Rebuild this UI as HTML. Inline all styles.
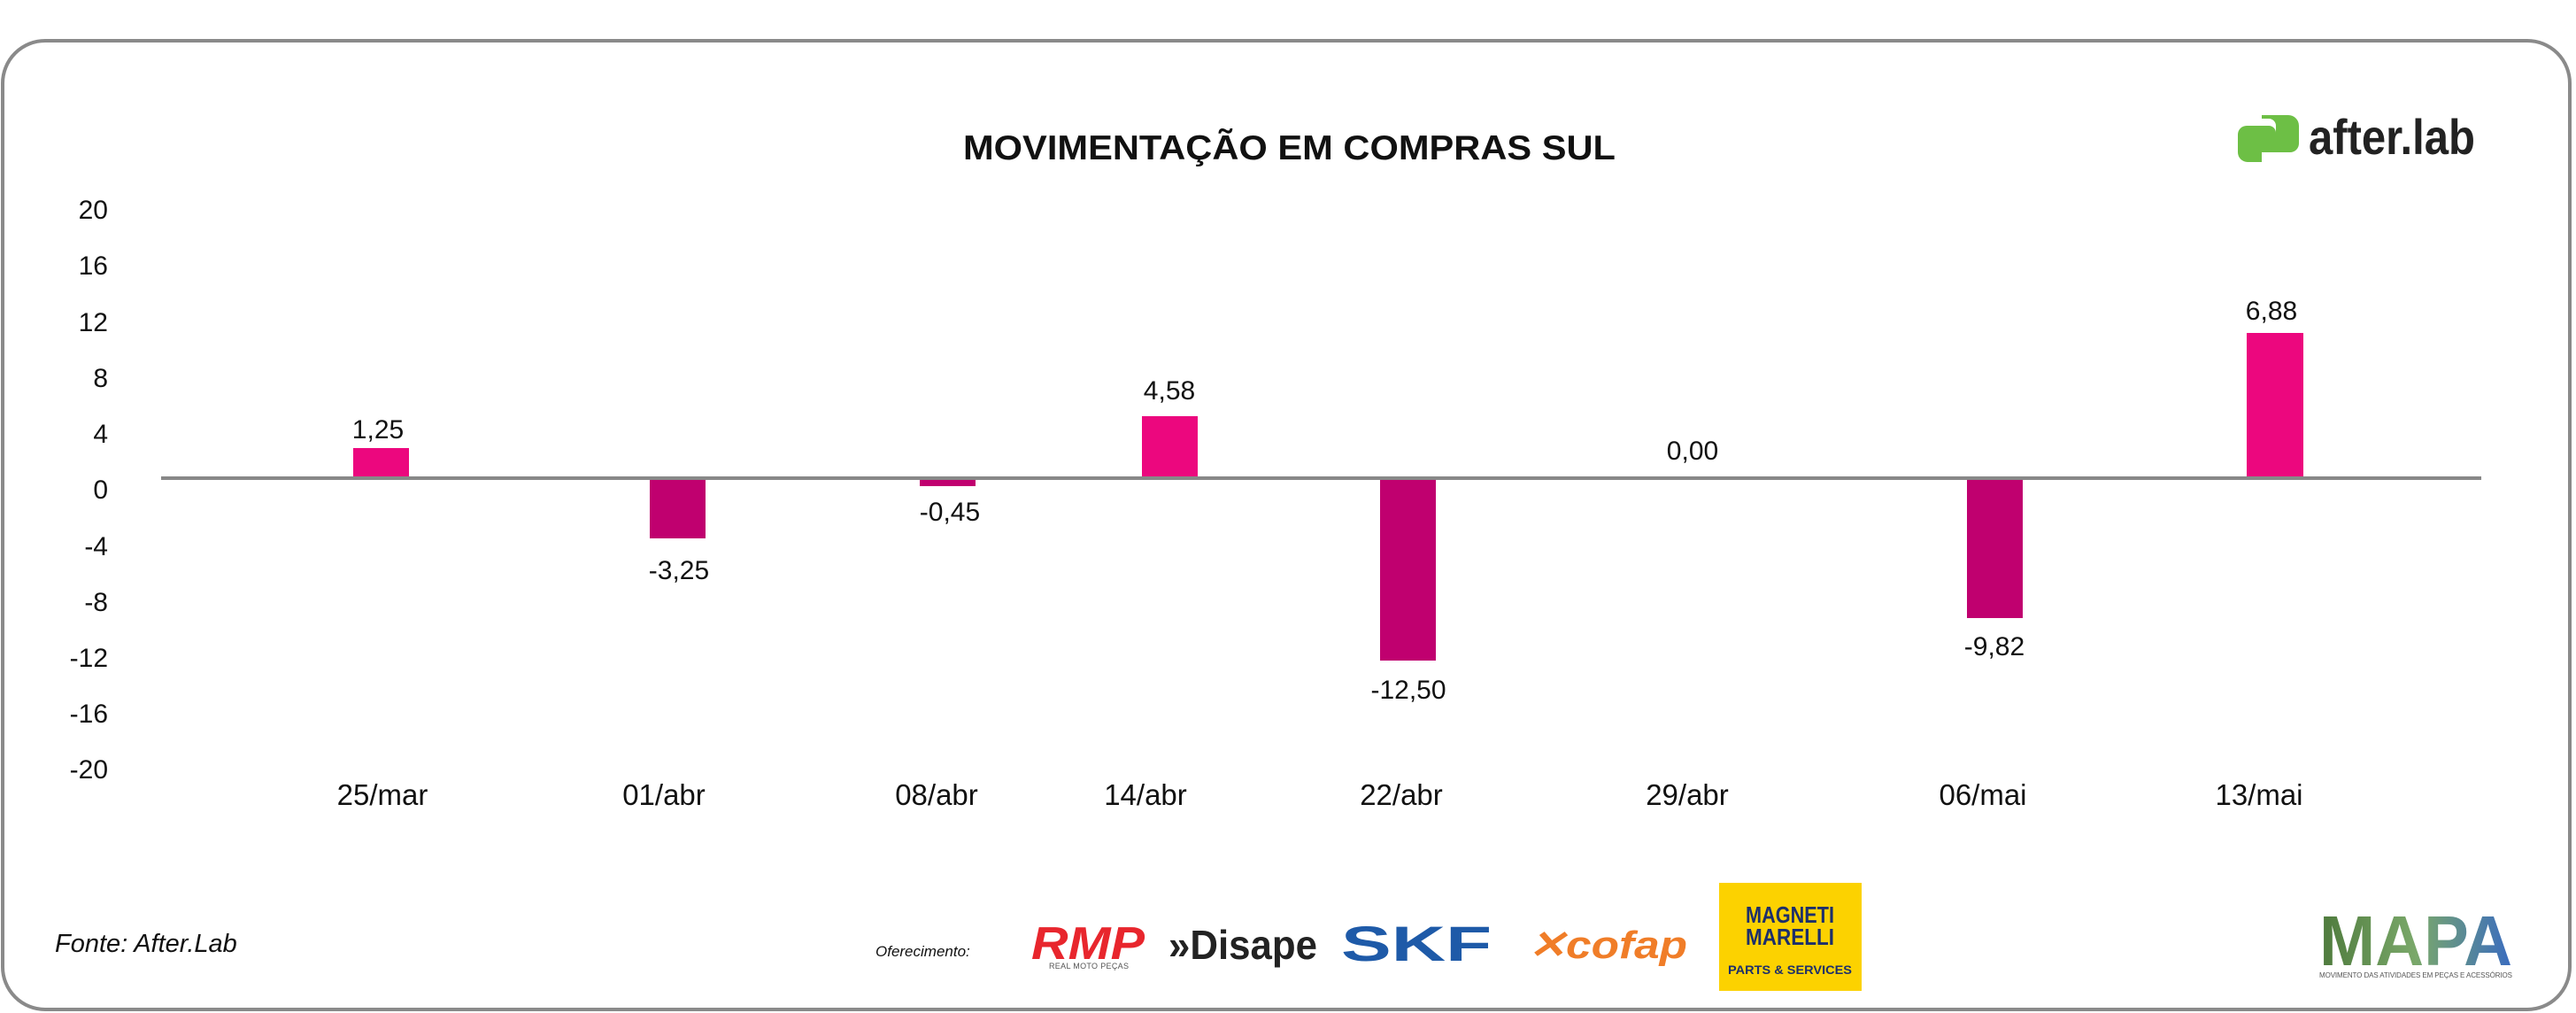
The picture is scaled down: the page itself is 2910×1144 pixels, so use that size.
<!DOCTYPE html>
<html><head><meta charset="utf-8"><style>
html,body{margin:0;padding:0;background:#fff;}
svg{display:block;}
</style></head><body>
<svg width="2910" height="1144" viewBox="0 0 2910 1144" xmlns="http://www.w3.org/2000/svg" font-family="Liberation Sans, sans-serif">
<rect x="0" y="0" width="2910" height="1144" fill="#fff"/>
<rect x="3" y="46" width="2900" height="1094" rx="48" ry="48" fill="none" stroke="#8a8a8a" stroke-width="4"/>
<text x="1088" y="180" font-size="39" font-weight="bold" fill="#111" textLength="737" lengthAdjust="spacingAndGlyphs">MOVIMENTAÇÃO EM COMPRAS SUL</text>
<path d="M2555 130 h30 a12 12 0 0 1 12 12 v20 a10 10 0 0 1 -10 10 h-16 v-30 a8 8 0 0 0 -8 -8 h-8 z" fill="#6dbf45"/>
<path d="M2548 142 h7 v41 h-16 a11 11 0 0 1 -11 -11 v-20 a10 10 0 0 1 10 -10 z" fill="#6dbf45"/>
<path d="M2555 142 h8 a8 8 0 0 1 8 8 v22 h-16 z" fill="#6dbf45"/>
<text x="2608" y="174" font-size="56" font-weight="bold" fill="#222" textLength="188" lengthAdjust="spacingAndGlyphs">after.lab</text>
<g font-size="30" fill="#111" text-anchor="end">
<text x="122" y="247">20</text>
<text x="122" y="310">16</text>
<text x="122" y="374">12</text>
<text x="122" y="437">8</text>
<text x="122" y="500">4</text>
<text x="122" y="563">0</text>
<text x="122" y="627">-4</text>
<text x="122" y="690">-8</text>
<text x="122" y="753">-12</text>
<text x="122" y="816">-16</text>
<text x="122" y="879">-20</text>
</g>
<rect x="399" y="506" width="63" height="34" fill="#ec077e"/>
<rect x="734" y="540" width="63" height="68" fill="#c0006f"/>
<rect x="1039" y="540" width="63" height="9" fill="#c0006f"/>
<rect x="1290" y="470" width="63" height="70" fill="#ec077e"/>
<rect x="1559" y="540" width="63" height="206" fill="#c0006f"/>
<rect x="2222" y="540" width="63" height="158" fill="#c0006f"/>
<rect x="2538" y="376" width="64" height="164" fill="#ec077e"/>
<line x1="182" y1="540" x2="2803" y2="540" stroke="#888" stroke-width="4"/>
<g font-size="30" fill="#111" text-anchor="middle">
<text x="427" y="495">1,25</text>
<text x="767" y="654">-3,25</text>
<text x="1073" y="588">-0,45</text>
<text x="1321" y="451">4,58</text>
<text x="1591" y="789">-12,50</text>
<text x="1912" y="519">0,00</text>
<text x="2253" y="740">-9,82</text>
<text x="2566" y="361">6,88</text>
</g>
<g font-size="33" fill="#111" text-anchor="middle">
<text x="432" y="909">25/mar</text>
<text x="750" y="909">01/abr</text>
<text x="1058" y="909">08/abr</text>
<text x="1294" y="909">14/abr</text>
<text x="1583" y="909">22/abr</text>
<text x="1906" y="909">29/abr</text>
<text x="2240" y="909">06/mai</text>
<text x="2552" y="909">13/mai</text>
</g>
<text x="62" y="1075" font-size="29" font-style="italic" fill="#111">Fonte: After.Lab</text>
<text x="989" y="1080" font-size="17" font-style="italic" fill="#111">Oferecimento:</text>
<text x="1165" y="1083" font-size="52" font-weight="bold" font-style="italic" fill="#e8262d" textLength="128" lengthAdjust="spacingAndGlyphs">RMP</text>
<text x="1185" y="1094" font-size="9" fill="#555" textLength="90" lengthAdjust="spacing">REAL MOTO PEÇAS</text>
<text x="1320" y="1083" font-size="46" font-weight="bold" fill="#222" textLength="168" lengthAdjust="spacingAndGlyphs">»Disape</text>
<text x="1515" y="1085" font-size="56" font-weight="bold" fill="#1e5aa8" textLength="170" lengthAdjust="spacingAndGlyphs">SKF</text>
<text x="1726" y="1082" font-size="44" font-weight="bold" font-style="italic" fill="#f07d28" textLength="180" lengthAdjust="spacingAndGlyphs">✕cofap</text>
<rect x="1942" y="997" width="161" height="122" fill="#fcd200"/>
<text x="2022" y="1042" font-size="26" font-weight="bold" fill="#1d2f6b" text-anchor="middle" textLength="100" lengthAdjust="spacingAndGlyphs">MAGNETI</text>
<text x="2022" y="1067" font-size="26" font-weight="bold" fill="#1d2f6b" text-anchor="middle" textLength="100" lengthAdjust="spacingAndGlyphs">MARELLI</text>
<text x="2022" y="1100" font-size="14" font-weight="bold" fill="#1d2f6b" text-anchor="middle" textLength="140" lengthAdjust="spacingAndGlyphs">PARTS &amp; SERVICES</text>
<defs><linearGradient id="mg" x1="0" x2="1" y1="0" y2="0"><stop offset="0" stop-color="#4e7a3c"/><stop offset="0.5" stop-color="#7aa86a"/><stop offset="1" stop-color="#3a6cc0"/></linearGradient></defs>
<text x="2620" y="1090" font-size="80" font-weight="bold" fill="url(#mg)" textLength="218" lengthAdjust="spacingAndGlyphs">MAPA</text>
<text x="2620" y="1104" font-size="8" fill="#555" textLength="218" lengthAdjust="spacing">MOVIMENTO DAS ATIVIDADES EM PEÇAS E ACESSÓRIOS</text>
</svg>
</body></html>
